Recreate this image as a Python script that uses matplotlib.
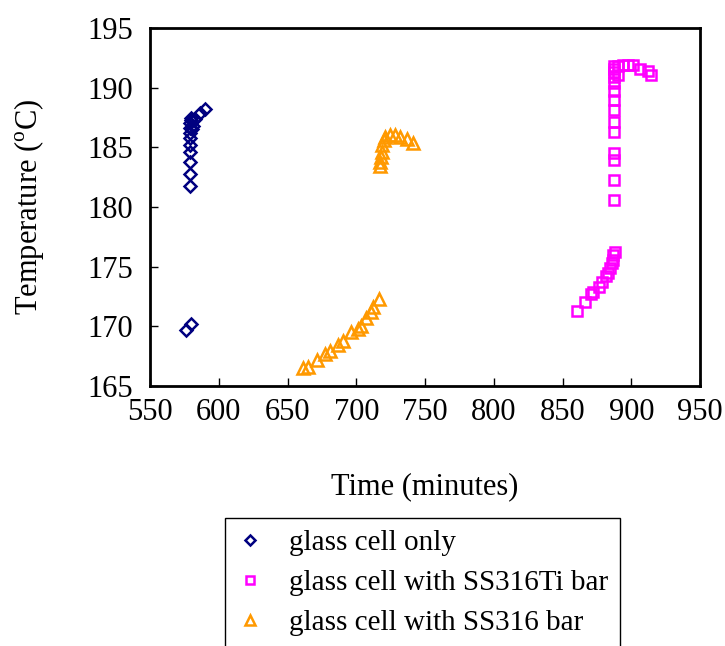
import matplotlib
matplotlib.use("Agg")
import matplotlib.pyplot as plt

plt.rcParams['font.family'] = ['Liberation Serif', 'DejaVu Serif']
plt.rcParams['mathtext.fontset'] = 'custom'
plt.rcParams['mathtext.rm'] = 'Liberation Serif'

glass_x = [576, 579.5, 579, 579, 579, 579, 579, 579, 579, 579, 579, 579.5, 580, 580.5, 581, 583, 586, 590]
glass_y = [169.7, 170.2, 181.8, 182.8, 183.8, 184.6, 185.2, 185.8, 186.2, 186.6, 187.0, 187.3, 187.5, 186.5, 186.8, 187.4, 187.9, 188.2]

ti_x = [860.8, 866.4, 870.5, 872.4, 876.8, 878.5, 881.6, 883.3, 884.5, 885.8, 886.5, 886.9, 888.2,
        887.7, 887.7, 887.7, 887.7, 887.7, 887.7, 887.7, 887.7, 887.7, 887.7, 887.7, 887.7, 887.7, 887.7,
        890.6, 890.6, 894.2, 897.9, 901.0, 906.4, 912.4, 914.4]
ti_y = [171.3, 172.0, 172.7, 172.9, 173.3, 173.7, 174.2, 174.5, 174.9, 175.3, 175.6, 176.0, 176.2,
        180.6, 182.3, 183.9, 184.5, 186.3, 187.1, 188.1, 189.0, 189.7, 190.4, 190.9, 191.3, 191.6, 191.8,
        191.1, 191.8, 191.9, 191.9, 191.9, 191.6, 191.4, 191.1]

ss_x = [661.5, 665.1, 671.2, 677.3, 680.9, 687.0, 690.6, 696.0, 701.5, 703.5, 707.0, 710.4, 712.4, 716.5,
        717.0, 717.5, 718.0, 718.5, 719.0, 720.0, 721.0, 724.5, 728.0, 731.8, 736.7, 741.5]
ss_y = [166.5, 166.6, 167.2, 167.7, 167.9, 168.4, 168.8, 169.5, 169.8, 170.0, 170.7, 171.2, 171.6, 172.3,
        183.4, 183.8, 184.2, 184.6, 185.2, 185.6, 185.9, 186.0, 186.0, 185.9, 185.7, 185.4]

x_ticks = [550, 600, 650, 700, 750, 800, 850, 900, 950]
y_ticks = [165, 170, 175, 180, 185, 190, 195]

fig = plt.figure(figsize=(7.25, 6.46), dpi=100)
ax = fig.add_axes([150/725, 1-386/646, 550/725, 358/646])

h1, = ax.plot(glass_x, glass_y, linestyle='none', marker='D', markersize=6.5,
              markerfacecolor='none', markeredgecolor='#000080', markeredgewidth=1.8,
              label='glass cell only')
h2, = ax.plot(ti_x, ti_y, linestyle='none', marker='s', markersize=7.5,
              markerfacecolor='none', markeredgecolor='#FF00FF', markeredgewidth=1.8,
              label='glass cell with SS316Ti bar')
h3, = ax.plot(ss_x, ss_y, linestyle='none', marker='^', markersize=9,
              markerfacecolor='none', markeredgecolor='#FF9900', markeredgewidth=1.8,
              label='glass cell with SS316 bar')

ax.set_xlim(550, 950)
ax.set_ylim(165, 195)
ax.set_xticks(x_ticks)
ax.set_yticks(y_ticks)
ax.tick_params(axis='both', direction='in', length=6, width=1, labelsize=22,
               top=False, right=False)
ax.tick_params(axis='x', pad=9)
ax.tick_params(axis='y', pad=12)
for s in ax.spines.values():
    s.set_linewidth(2)
    s.set_color('black')

ax.set_xlabel('Time (minutes)', fontsize=22, labelpad=32)
ax.set_ylabel('Temperature ($^{\\mathrm{o}}$C)', fontsize=22, labelpad=30)

leg = fig.legend(handles=[h1, h2, h3], loc='upper left',
                 bbox_to_anchor=(225/725, 1-518/646), fontsize=21,
                 frameon=True, fancybox=False, edgecolor='black', framealpha=1,
                 borderpad=0.4, handlelength=0.9, handletextpad=0.9, labelspacing=0.46,
                 markerscale=0.8, borderaxespad=0)
leg.get_frame().set_linewidth(1)

fig.savefig('out.png', dpi=100)
